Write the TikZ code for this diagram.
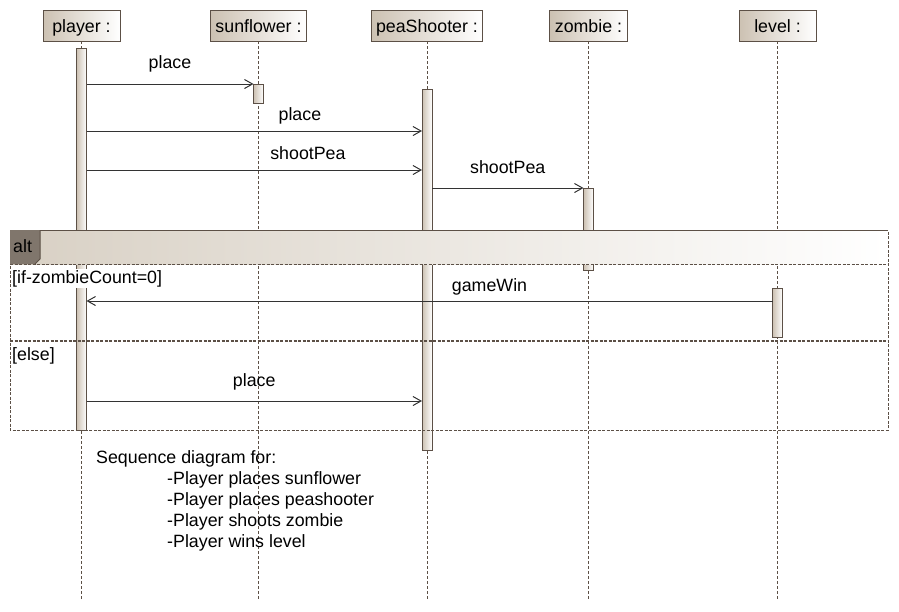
\documentclass[tikz,border=0pt]{standalone}
\usepackage{fontspec}
\setmainfont{Liberation Sans}
\usepackage{xcolor}
\usepackage{tikz}
\usetikzlibrary{arrows.meta, positioning}
\definecolor{contorno}{RGB}{92,80,70}
\definecolor{bege}{RGB}{204,193,178}
\definecolor{abaalt}{RGB}{128,118,108}
\definecolor{faixa}{RGB}{216,208,196}
\newcommand{\umlfont}{\fontsize{17.8}{21}\selectfont}

\tikzset{
  cabeca/.style={draw=contorno, line width=1pt, left color=bege, right color=white,
    minimum width=77pt, minimum height=31pt, inner xsep=5pt, outer sep=0pt,
    text height=14pt, text depth=0pt, anchor=north},
  vida/.style={contorno, line width=1pt, dash pattern=on 3pt off 2pt},
  ativa/.style={draw=contorno, line width=1pt, left color=bege, right color=white,
    minimum width=10pt, inner sep=0pt, outer sep=0pt},
  msg/.style={-{Straight Barb[length=8pt, width=9pt]}, line width=1pt, black!80},
  rotulo/.style={anchor=base, inner sep=0pt, text=black},
  guarda/.style={anchor=base west, fill=white, inner sep=1pt},
  moldura/.style={contorno, line width=1pt, dash pattern=on 3pt off 1.5pt},
}

\begin{document}
\begin{tikzpicture}[x=1pt, y=-1pt, font=\umlfont]
  \useasboundingbox (0,0) rectangle (899,611);
  % objetos
  \node[cabeca] (player) at (81.5,10) {player :};
  \node[cabeca] (sunflower) at (258.5,10) {sunflower :};
  \node[cabeca] (peaShooter) at (427,10) {peaShooter :};
  \node[cabeca] (zombie) at (588.5,10) {zombie :};
  \node[cabeca] (level) at (777.5,10) {level :};
  % linhas de vida
  \coordinate (fundo) at (0,600);
  \foreach \obj in {player, sunflower, peaShooter, zombie, level}
    \draw[vida] (\obj.south) -- (\obj.south |- fundo);
  % barras de ativacao
  \node[ativa, minimum height=382pt, below=7pt of player] (atPlayer) {};
  \node[ativa, minimum height=19pt, below=43pt of sunflower] (atSunflower) {};
  \node[ativa, minimum height=361pt, below=48pt of peaShooter] (atPea) {};
  \node[ativa, minimum height=82pt, below=147pt of zombie] (atZombie) {};
  \node[ativa, minimum height=49pt, below=247pt of level] (atLevel) {};
  % alturas das mensagens
  \coordinate (m2) at (0,131);
  \coordinate (m3) at (0,170);
  \coordinate (m5) at (0,301);
  \coordinate (m6) at (0,401);
  % mensagens
  \draw[msg] (atPlayer.east |- atSunflower.north) -- (atSunflower.north west)
    node[rotulo, pos=.5, yshift=16pt] {place};
  \draw[msg] (atPlayer.east |- m2) -- (atPea.west |- m2)
    node[rotulo, pos=.636, yshift=10.5pt] {place};
  \draw[msg] (atPlayer.east |- m3) -- (atPea.west |- m3)
    node[rotulo, pos=.66, yshift=10.5pt] {shootPea};
  \draw[msg] (atPea.east |- atZombie.north) -- (atZombie.north west)
    node[rotulo, pos=.5, yshift=15pt] {shootPea};
  % fragmento alt
  \fill[left color=faixa, right color=white] (10,230) rectangle (888,264);
  \draw[contorno, line width=1pt] (10,230) -- (888,230);
  \draw[moldura] (10,230) -- (10,430) -- (888,430) -- (888,230);
  \draw[moldura] (10,264) -- (888,264);
  \draw[moldura, line width=1.6pt] (10,341) -- (888,341);
  \fill[abaalt] (10,230) -- (40,230) -- (40,259) -- (35,264) -- (10,264) -- cycle;
  \draw[contorno, line width=1pt] (40,230) -- (40,259) -- (35,264);
  \node[anchor=base west, inner sep=0pt] (alt) at (13,252.5) {alt};
  \node[guarda] (seZero) at (11,283) {[if-zombieCount=0]};
  \node[guarda] (senao) at (11,360) {[else]};
  \draw[msg] (atLevel.west |- m5) -- (atPlayer.east |- m5)
    node[rotulo, pos=.4125, yshift=10pt] {gameWin};
  \draw[msg] (atPlayer.east |- m6) -- (atPea.west |- m6)
    node[rotulo, pos=.5, yshift=14.3pt] {place};
  % nota
  \node[anchor=north west, align=left, inner sep=0pt] (nota) at (96,450.5)
    {Sequence diagram for:\\
     \hspace*{71pt}-Player places sunflower\\
     \hspace*{71pt}-Player places peashooter\\
     \hspace*{71pt}-Player shoots zombie\\
     \hspace*{71pt}-Player wins level};
\end{tikzpicture}
\end{document}
